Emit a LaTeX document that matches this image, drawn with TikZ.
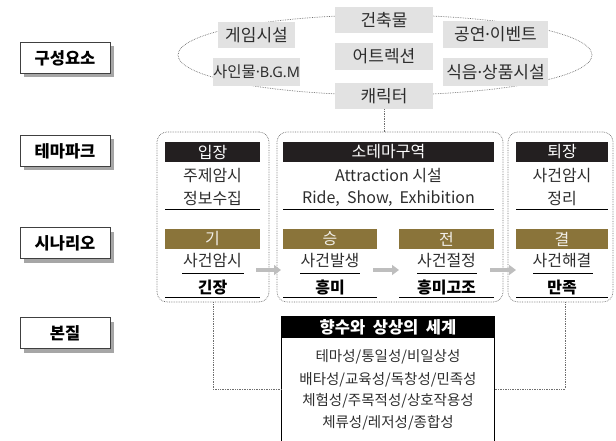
\documentclass[tikz,border=0pt]{standalone}
\usepackage{fontspec}
\setmainfont{Noto Sans CJK KR}
\newfontfamily\latinfont{Noto Sans}
\newcommand\middot{{\latinfont ·}}
\usetikzlibrary{arrows.meta,shadows}
\definecolor{goldbar}{RGB}{138,116,58}
\definecolor{barblack}{RGB}{35,31,32}
\definecolor{boxgray}{RGB}{226,226,226}
\definecolor{txt}{RGB}{45,45,45}
\definecolor{dotgray}{RGB}{110,110,110}
\definecolor{flowgray}{RGB}{190,190,190}
\begin{document}
\begin{tikzpicture}[x=1pt,y=-1pt,
  lbl/.style={draw=black!75, fill=white, line width=0.7pt, minimum width=90pt, minimum height=31pt, inner sep=0pt,
    font=\bfseries\fontsize{16.5}{18}\selectfont,
    drop shadow={shadow xshift=4pt, shadow yshift=-4pt, fill=black!35, opacity=1}},
  elem/.style={fill=boxgray, inner sep=0pt, minimum height=26pt, text=txt, font=\fontsize{17}{19}\selectfont},
  grp/.style={draw=dotgray, densely dotted, rounded corners=10pt, line width=0.7pt, inner sep=0pt},
  hbar/.style={fill=barblack, text=white, inner sep=0pt, minimum height=20pt, font=\fontsize{16}{18}\selectfont},
  gbar/.style={fill=goldbar, text=white!88!goldbar, inner sep=0pt, minimum height=20pt, font=\fontsize{16}{18}\selectfont},
  body/.style={inner sep=0pt, text=txt, font=\fontsize{16}{18}\selectfont},
  strong/.style={inner sep=0pt, text=black, font=\bfseries\fontsize{16}{18}\selectfont},
  uline/.style={draw=black, line width=0.8pt},
  flow/.style={draw=flowgray, line width=4pt, -{Triangle[width=10pt,length=7pt]}},
  conn/.style={draw=dotgray, densely dotted, line width=0.7pt},
  list/.style={inner sep=0pt, text=txt, font=\fontsize{14.5}{16}\selectfont}
]
\useasboundingbox (0,0) rectangle (616,441);

% left labels
\node[lbl] (l1) at (65,58) {구성요소};
\node[lbl] (l2) at (65,151) {테마파크};
\node[lbl] (l3) at (65,243) {시나리오};
\node[lbl] (l4) at (65,333) {본질};

% ellipse of elements
\draw[conn] (385,55) ellipse [x radius=207pt, y radius=40pt];
\node[elem, minimum width=98pt] (e1) at (384,20) {건축물};
\node[elem, minimum width=77pt] (e2) at (256.5,35) {게임시설};
\node[elem, minimum width=77pt, minimum height=28pt, font=\fontsize{15.5}{18}\selectfont] (e3) at (256.5,72) {사인물\middot{\latinfont\fontsize{14.5}{18}\selectfont B.G.M}};
\node[elem, minimum width=98pt, minimum height=27pt] (e4) at (384,56.5) {어트렉션};
\node[elem, minimum width=98pt] (e5) at (384,96) {캐릭터};
\node[elem, minimum width=105pt, minimum height=27pt] (e6) at (495.5,34.5) {공연\middot 이벤트};
\node[elem, minimum width=105pt, minimum height=28pt] (e7) at (495.5,72) {식음\middot 상품시설};

% groups
\node[grp, minimum width=112pt, minimum height=170pt] (g1) at (213,217) {};
\node[grp, minimum width=226pt, minimum height=170pt] (g2) at (390,217) {};
\node[grp, minimum width=105pt, minimum height=170pt] (g3) at (560.5,217) {};
\draw[conn] (e5.south) -- (e5.south |- g2.north);

% left group
\node[hbar, minimum width=95pt] (h1) at (212.5,152) {입장};
\node[body] (t11) at (212.5,176) {주제암시};
\node[body] (t12) at (212.5,198.5) {정보수집};
\draw[uline] (165,209.5) -- (260,209.5);
\node[gbar, minimum width=95pt] (s1) at (212.5,239) {기};
\node[body] (t13) at (212.5,261) {사건암시};
\draw[uline] (182,273) -- (244,273);
\node[strong] (b1) at (212.5,287.5) {긴장};
\draw[uline] (165,297.5) -- (260,297.5);

% middle group
\node[hbar, minimum width=211pt] (h2) at (388.5,152) {소테마구역};
\node[body] (t21) at (388.5,175.5) {Attraction 시설};
\node[body] (t22) at (388.5,199) {Ride,\ \ Show,\ \ Exhibition};
\draw[uline] (283,209.5) -- (494,209.5);
\node[gbar, minimum width=94pt] (s2) at (330,239) {승};
\node[body] (t23) at (330,261) {사건발생};
\draw[uline] (300,273) -- (360,273);
\node[strong] (b2) at (330,287.5) {흥미};
\draw[uline] (283,297.5) -- (377,297.5);
\node[gbar, minimum width=95pt] (s3) at (446.5,239) {전};
\node[body] (t24) at (446.5,261) {사건절정};
\draw[uline] (417,273) -- (477,273);
\node[strong] (b3) at (446.5,287.5) {흥미고조};
\draw[uline] (399,297.5) -- (494,297.5);

% right group
\node[hbar, minimum width=92pt] (h3) at (562,152) {퇴장};
\node[body] (t31) at (562,176) {사건암시};
\node[body] (t32) at (562,198.5) {정리};
\draw[uline] (516,209.5) -- (608,209.5);
\node[gbar, minimum width=92pt] (s4) at (562,239) {결};
\node[body] (t33) at (562,261) {사건해결};
\draw[uline] (533,273) -- (593,273);
\node[strong] (b4) at (562,287.5) {만족};
\draw[uline] (516,297.5) -- (608,297.5);

% flow arrows
\coordinate (a1s) at (256,270); \coordinate (a1e) at (281,270);
\coordinate (a2s) at (373,270); \coordinate (a2e) at (399,270);
\coordinate (a3s) at (490,270); \coordinate (a3e) at (516,270);
\draw[flow] (a1s) -- (a1e);
\draw[flow] (a2s) -- (a2e);
\draw[flow] (a3s) -- (a3e);

% essence box
\node[fill=black, text=white, inner sep=0pt, minimum width=212pt, minimum height=21pt,
  font=\bfseries\fontsize{16.5}{18}\selectfont] (ess) at (388,327.5) {향수와\ \ 상상의\ \ 세계};
\coordinate (bot) at (0,446);
\draw[line width=0.8pt] (ess.north west |- bot) -- (ess.north west) -- (ess.north east) -- (ess.north east |- bot);
\node[list] (p1) at (388,357) {테마성/통일성/비일상성};
\node[list] (p2) at (388,379.5) {배타성/교육성/독창성/민족성};
\node[list] (p3) at (388,401) {체험성/주목적성/상호작용성};
\node[list] (p4) at (388,422.5) {체류성/레저성/종합성};

% connectors to essence
\coordinate (cl) at (213,389);
\coordinate (cr) at (565,389);
\draw[conn] (g1.south) -- (cl) -- (cl -| ess.west);
\draw[conn] (cr |- g3.south) -- (cr) -- (cr -| ess.east);
\end{tikzpicture}
\end{document}
